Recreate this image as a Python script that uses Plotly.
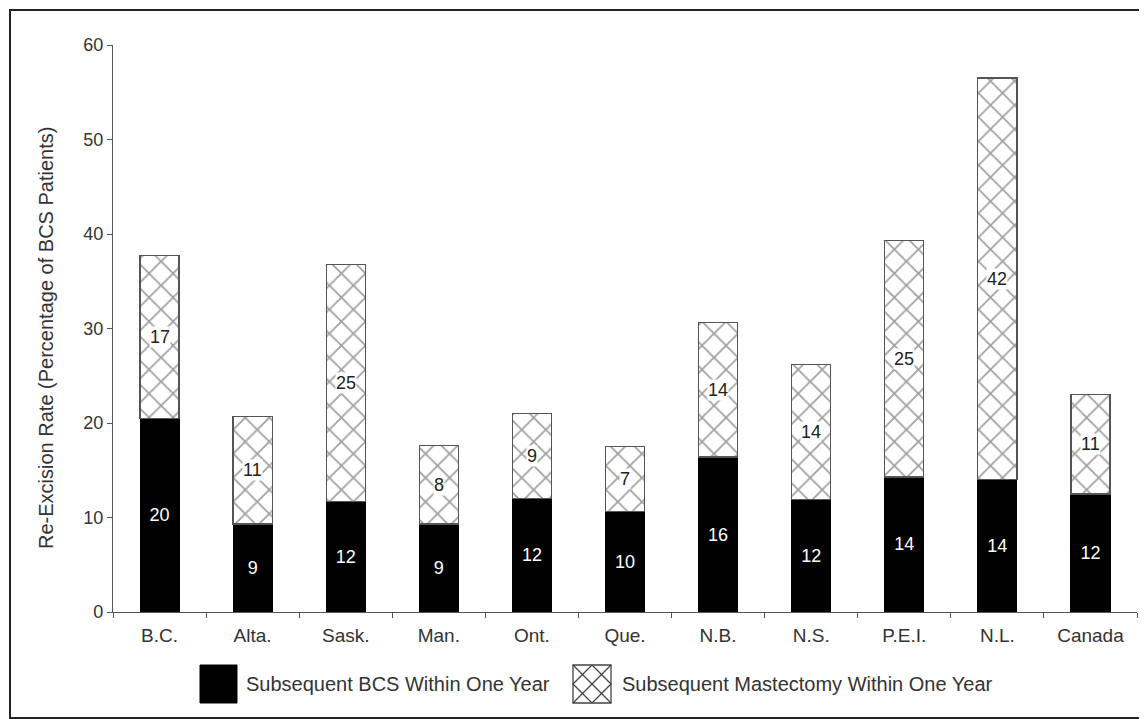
import plotly.graph_objects as go

provinces = ["B.C.", "Alta.", "Sask.", "Man.", "Ont.", "Que.", "N.B.", "N.S.", "P.E.I.", "N.L.", "Canada"]
bcs_values = [20.5, 9.3, 11.7, 9.3, 12.0, 10.6, 16.4, 11.9, 14.3, 14.0, 12.5]
mast_values = [17.2, 11.4, 25.1, 8.3, 9.0, 6.9, 14.2, 14.3, 25.0, 42.5, 10.5]
bcs_labels = ["20", "9", "12", "9", "12", "10", "16", "12", "14", "14", "12"]
mast_labels = ["17", "11", "25", "8", "9", "7", "14", "14", "25", "42", "11"]
series_names = ["Subsequent BCS Within One Year", "Subsequent Mastectomy Within One Year"]
y_title = "Re-Excision Rate (Percentage of BCS Patients)"

FONT = "Liberation Sans, Arial, sans-serif"
TXT = "#333333"

# browser body margin (8px) offset compensation
OFF = 8
W, H = 1147 - OFF, 719 - OFF
L, T = 113 - OFF, 45 - OFF
R = W - (1137 - OFF)
B = H - (612 - OFF)
pw, ph = W - L - R, H - T - B


def px(xp):
    return (xp - OFF - L) / pw


def py(yp):
    return (H - B - (yp - OFF)) / ph


fig = go.Figure()
fig.add_trace(go.Bar(
    x=provinces, y=bcs_values, name=series_names[0],
    marker=dict(color="black", line=dict(color="black", width=1)),
    text=bcs_labels, textposition="inside", insidetextanchor="middle",
    textfont=dict(color="white", size=18, family=FONT),
    textangle=0, width=0.42, showlegend=False,
))
fig.add_trace(go.Bar(
    x=provinces, y=mast_values, name=series_names[1],
    marker=dict(color="white",
                line=dict(color="#555555", width=1.3),
                pattern=dict(shape="x", fgcolor="#444444", bgcolor="white",
                             size=17, solidity=0.2)),
    width=0.42, showlegend=False,
))

annotations = []
for p, b, m, lab in zip(provinces, bcs_values, mast_values, mast_labels):
    annotations.append(dict(
        x=p, y=b + m / 2, xref="x", yref="y", text=lab, showarrow=False,
        font=dict(size=18, color="#222222", family=FONT), bgcolor="white",
        borderpad=0,
    ))

# y-axis title
annotations.append(dict(
    x=px(46), y=py(338), xref="paper", yref="paper", text=y_title, textangle=-90,
    showarrow=False, font=dict(size=20, color=TXT, family=FONT),
    xanchor="center", yanchor="middle",
))

shapes = []
# outer frame
shapes.append(dict(type="rect", xref="paper", yref="paper",
                   x0=px(10), x1=px(1145), y0=py(718), y1=py(10),
                   line=dict(color="#222222", width=2), fillcolor="rgba(0,0,0,0)", layer="below"))
# black legend box
shapes.append(dict(type="rect", xref="paper", yref="paper",
                   x0=px(200), x1=px(237), y0=py(703), y1=py(665),
                   line=dict(color="black", width=1), fillcolor="black"))
annotations.append(dict(x=px(244), y=py(684), xref="paper", yref="paper",
                        text=series_names[0], showarrow=False, xanchor="left",
                        yanchor="middle", font=dict(size=20, color=TXT, family=FONT)))
# hatched legend box
bx0, bx1, by0, by1 = 573, 611, 665, 703
shapes.append(dict(type="rect", xref="paper", yref="paper",
                   x0=px(bx0), x1=px(bx1), y0=py(by1), y1=py(by0),
                   line=dict(color="#444444", width=1.3), fillcolor="white"))
mx, my = (bx0 + bx1) / 2, (by0 + by1) / 2
segs = [
    ((bx0, by0), (bx1, by1)), ((bx0, by1), (bx1, by0)),
    ((mx, by0), (bx1, my)), ((bx1, my), (mx, by1)),
    ((mx, by1), (bx0, my)), ((bx0, my), (mx, by0)),
]
for (xa, ya), (xb, yb) in segs:
    shapes.append(dict(type="line", xref="paper", yref="paper",
                       x0=px(xa), y0=py(ya), x1=px(xb), y1=py(yb),
                       line=dict(color="#444444", width=1.3)))
annotations.append(dict(x=px(620), y=py(684), xref="paper", yref="paper",
                        text=series_names[1], showarrow=False, xanchor="left",
                        yanchor="middle", font=dict(size=20, color=TXT, family=FONT)))

fig.update_layout(
    width=W, height=H,
    margin=dict(l=L, r=R, t=T, b=B, autoexpand=False),
    barmode="stack",
    plot_bgcolor="white", paper_bgcolor="white",
    font=dict(family=FONT, size=18, color=TXT),
    annotations=annotations, shapes=shapes,
    xaxis=dict(
        showline=True, linecolor="#555555", linewidth=1.2,
        ticks="outside", ticklen=5, tickcolor="#555555", tickson="boundaries",
        ticklabelstandoff=6,
        tickfont=dict(size=19, color=TXT, family=FONT),
        showgrid=False, zeroline=False,
    ),
    yaxis=dict(
        range=[0, 60], tickvals=[0, 10, 20, 30, 40, 50, 60],
        showline=True, linecolor="#555555", linewidth=1.2,
        ticks="outside", ticklen=5, tickcolor="#555555",
        tickfont=dict(size=18, color=TXT, family=FONT),
        showgrid=False, zeroline=False,
    ),
)

fig.write_html("out.html")
